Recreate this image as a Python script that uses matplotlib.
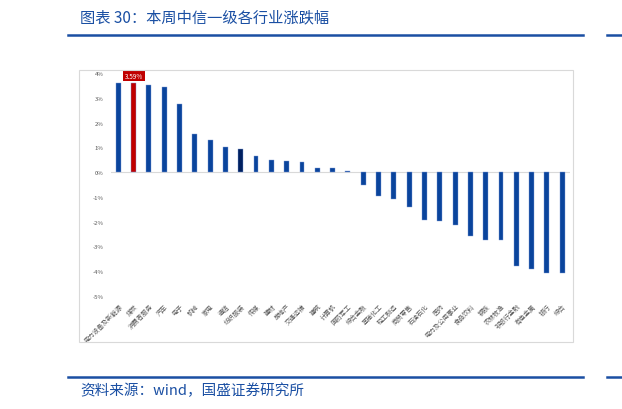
import matplotlib
matplotlib.use("Agg")
import matplotlib.pyplot as plt
from matplotlib.patches import Rectangle
from matplotlib.lines import Line2D

plt.rcParams['font.family'] = ['Noto Sans CJK SC', 'DejaVu Sans']
plt.rcParams['axes.unicode_minus'] = False

categories = ["电力设备及新能源", "煤炭", "消费者服务", "汽车", "电子", "机械", "家电", "通信",
              "纺织服装", "传媒", "建材", "房地产", "交通运输", "建筑", "计算机", "国防军工",
              "综合金融", "基础化工", "轻工制造", "商贸零售", "石油石化", "医药", "电力及公用事业",
              "食品饮料", "钢铁", "农林牧渔", "非银行金融", "有色金属", "银行", "综合"]
values = [3.58, 3.59, 3.50, 3.42, 2.73, 1.53, 1.29, 1.01, 0.93, 0.67, 0.50, 0.44, 0.40,
          0.17, 0.15, 0.05, -0.54, -0.95, -1.09, -1.42, -1.92, -1.98, -2.15, -2.58,
          -2.74, -2.75, -3.78, -3.91, -4.09, -4.09]
highlight_label = "3.59%"
yticks = [4, 3, 2, 1, 0, -1, -2, -3, -4, -5]

W, H = 622, 410
fig = plt.figure(figsize=(W / 100, H / 100), dpi=100)

def fx(x):
    return x / W

def fy(y):
    return 1 - y / H

blue = '#0A449C'
line_blue = '#1A4FA3'

# header / footer lines
for y in (35.5, 378.3):
    fig.add_artist(Line2D([fx(68), fx(583)], [fy(y), fy(y)], color=line_blue, lw=1.8))
    fig.add_artist(Line2D([fx(607), fx(622)], [fy(y), fy(y)], color=line_blue, lw=1.8))

fig.text(fx(80), fy(18), "图表 30：本周中信一级各行业涨跌幅", fontsize=11, color=line_blue,
         va='center', ha='left', style='italic')
fig.text(fx(80), fy(391), "资料来源：wind，国盛证券研究所", fontsize=10.5, color=line_blue,
         va='center', ha='left', style='italic')

# chart frame
fig.add_artist(Rectangle((fx(79), fy(343)), (572.5 - 79) / W, (343 - 71) / H,
                         transform=fig.transFigure, fill=False, edgecolor='#D9D9D9', lw=0.8))

ax = fig.add_axes([fx(110.6), fy(297), (569.9 - 110.6) / W, (297 - 74) / H])
x = list(range(len(categories)))
colors = [blue] * len(categories)
colors[1] = '#C00000'
colors[8] = '#002060'
ax.bar(x, values, width=0.32, color=colors, edgecolor='#7D9AD6', linewidth=0.3, zorder=3)
ax.axhline(0, color='#D9D9D9', lw=0.8, zorder=2)
ax.set_xlim(-0.5, len(categories) - 0.5)
ax.set_ylim(-5, 4)
ax.set_yticks(yticks)
ax.set_yticklabels([f"{t}%" for t in yticks], fontsize=4.3, color='#595959')
ax.set_xticks(x)
ax.set_xticklabels(categories, rotation=45, ha='right', rotation_mode='anchor',
                   fontsize=4.6, color='#595959')
ax.tick_params(axis='both', length=0)
ax.tick_params(axis='y', pad=5)
ax.tick_params(axis='x', pad=4)
for s in ax.spines.values():
    s.set_visible(False)
ax.patch.set_alpha(0)

ax.annotate(highlight_label, xy=(1, values[1]), xytext=(0, 5.5), textcoords='offset points',
            ha='center', va='center', fontsize=4.6, color='white',
            bbox=dict(boxstyle='square,pad=0.3', fc='#C00000', ec='none'))

fig.savefig("out.png", dpi=100)
